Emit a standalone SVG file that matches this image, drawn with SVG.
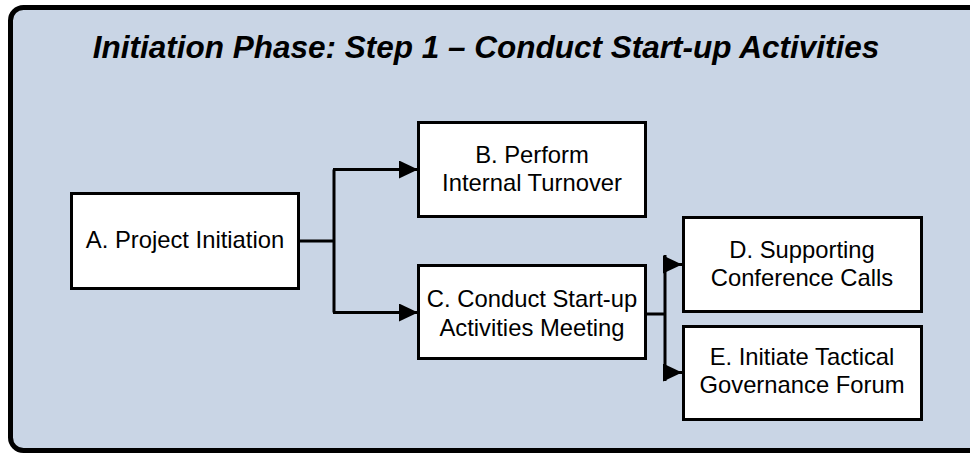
<svg xmlns="http://www.w3.org/2000/svg" width="970" height="453" viewBox="0 0 970 453">
  <style>
    .box { fill: #FFFFFF; stroke: #000000; stroke-width: 3; }
    .lbl { font-family: "Liberation Sans", Arial, sans-serif; font-size: 23.8px; fill: #000000; text-anchor: middle; }
    .title { font-family: "Liberation Sans", Arial, sans-serif; font-size: 31.5px; font-weight: bold; font-style: italic; fill: #000000; text-anchor: middle; }
    .wire { fill: none; stroke: #000000; stroke-width: 3; }
  </style>
  <defs>
    <marker id="arrow" markerUnits="userSpaceOnUse" markerWidth="19" markerHeight="18" viewBox="0 0 19 18" refX="19" refY="9" orient="auto">
      <path d="M0,0 L19,9 L0,18 Z" fill="#000000"/>
    </marker>
  </defs>

  <!-- background panel -->
  <rect x="10.5" y="7.5" width="975" height="443" rx="13" ry="13" fill="#C9D5E5" stroke="#000000" stroke-width="5"/>
  <text class="title" x="486" y="58">Initiation Phase: Step 1 – Conduct Start-up Activities</text>

  <!-- connectors -->
  <g id="connectors">
    <path class="wire" d="M300,241 H334 M334,169.5 V312.5"/>
    <path class="wire" d="M333,169.5 H418" marker-end="url(#arrow)"/>
    <path class="wire" d="M333,312.5 H418" marker-end="url(#arrow)"/>
    <path class="wire" d="M647,314 H665 M665,255 V381"/>
    <path class="wire" d="M663,264.5 H682" marker-end="url(#arrow)"/>
    <path class="wire" d="M663,372.5 H682" marker-end="url(#arrow)"/>
  </g>

  <g id="nodeA">
    <rect class="box" x="71.5" y="193.5" width="227" height="95"/>
    <text class="lbl" x="185" y="248">A. Project Initiation</text>
  </g>
  <g id="nodeB">
    <rect class="box" x="418.5" y="122.5" width="227" height="94"/>
    <text class="lbl" x="532" y="163">B. Perform</text>
    <text class="lbl" x="532" y="191">Internal Turnover</text>
  </g>
  <g id="nodeC">
    <rect class="box" x="418.5" y="265.5" width="227" height="93"/>
    <text class="lbl" x="532" y="307">C. Conduct Start-up</text>
    <text class="lbl" x="532" y="336">Activities Meeting</text>
  </g>
  <g id="nodeD">
    <rect class="box" x="683.5" y="217.5" width="238" height="94"/>
    <text class="lbl" x="802" y="258">D. Supporting</text>
    <text class="lbl" x="802" y="286">Conference Calls</text>
  </g>
  <g id="nodeE">
    <rect class="box" x="683.5" y="326.5" width="238" height="93"/>
    <text class="lbl" x="802" y="365">E. Initiate Tactical</text>
    <text class="lbl" x="802" y="393">Governance Forum</text>
  </g>
</svg>
